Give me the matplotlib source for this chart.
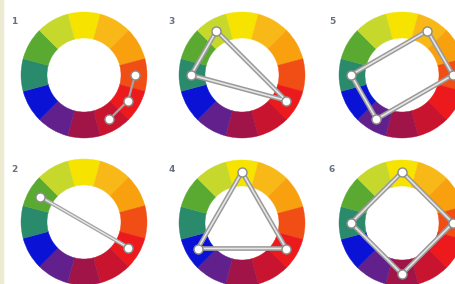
import numpy as np
import matplotlib.pyplot as plt
from matplotlib.patches import Wedge, Rectangle

# 12 hues, clockwise from 12 o'clock
wheel_colors = ['#f6e400', '#f8b818', '#f8a00e', '#f04e14', '#ec1a1c', '#c8142e',
                '#a01448', '#62208c', '#0a12d6', '#2a8a6c', '#5aaa32', '#c6d82c']

panel_labels = ['1', '2', '3', '4', '5', '6']
# hue positions (clock hours) picked by each scheme
hours_1 = [3, 4, 5]          # analogous
hours_2 = [10, 4]            # complementary
hours_3 = [11, 9, 4]         # split complementary
hours_4 = [12, 4, 8]         # triad
hours_5 = [1, 3, 7, 9]       # rectangle
hours_6 = [12, 3, 6, 9]      # square
closed = [False, False, True, True, True, True]

# layout (pixels)
centers = [(84, 75), (84, 222), (242, 75), (242, 223), (402, 75), (402, 223)]
r_out, r_in, r_dot = 63, 37, 51

fig = plt.figure(figsize=(4.56, 2.84), dpi=100)
ax = fig.add_axes([0, 0, 1, 1])
ax.set_xlim(0, 456)
ax.set_ylim(284, 0)
ax.set_aspect('equal')
ax.axis('off')

ax.add_patch(Rectangle((0, 0), 3.5, 284, color='#ecebd2', zorder=0))

schemes = [hours_1, hours_2, hours_3, hours_4, hours_5, hours_6]
for (cx, cy), lab, hrs, cl in zip(centers, panel_labels, schemes, closed):
    for i, c in enumerate(wheel_colors):
        # y axis is flipped, so angles go clockwise on screen
        mid = -90 + 30 * i
        ax.add_patch(Wedge((cx, cy), r_out, mid - 15, mid + 15, width=r_out - r_in,
                           facecolor=c, edgecolor=c, lw=0.3))
    xs, ys = [], []
    for h in hrs:
        a = np.deg2rad(-90 + 30 * (h % 12))
        xs.append(cx + r_dot * np.cos(a))
        ys.append(cy + r_dot * np.sin(a))
    if cl:
        xs.append(xs[0])
        ys.append(ys[0])
        ax.plot(xs, ys, color='#9a9a9a', lw=3.4, solid_capstyle='round', zorder=3)
        ax.plot(xs, ys, color='#e6e6e6', lw=1.2, zorder=4)
        ax.plot(xs[:-1], ys[:-1], 'o', ms=6.5, mfc='white', mec='#8c8c8c', mew=1.0, zorder=5)
    else:
        ax.plot(xs, ys, color='#a4a4a4', lw=2.8 if len(hrs) == 2 else 1.6, zorder=3)
        if len(hrs) == 2:
            ax.plot(xs, ys, color='#e6e6e6', lw=1.0, zorder=4)
        ax.plot(xs, ys, 'o', ms=6.5, mfc='white', mec='#8c8c8c', mew=1.0, zorder=5)
    ax.text(cx - 70, cy - 53, lab, fontsize=6.5, color='#667080', fontweight='bold',
            ha='center', va='center')

fig.savefig('out.png', dpi=100)
